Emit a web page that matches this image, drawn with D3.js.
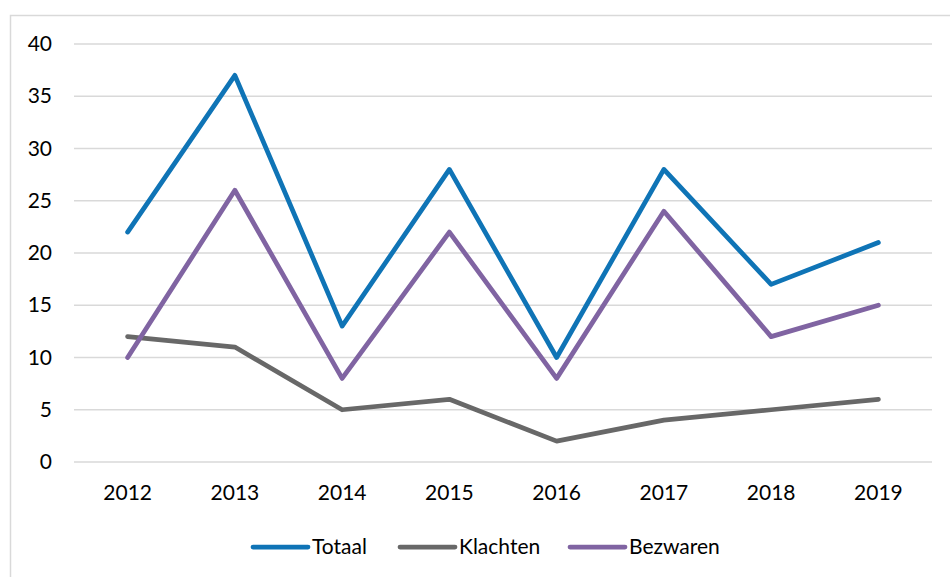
<!DOCTYPE html>
<html>
<head>
<meta charset="utf-8">
<script src="https://cdn.jsdelivr.net/npm/d3@7"></script>
<style>
  html, body { margin: 0; padding: 0; background: #fff; }
  svg { display: block; font-family: Lato, "Open Sans", sans-serif; }
</style>
</head>
<body>
<svg id="chart" width="950" height="577"></svg>
<script>
const categories = ["2012", "2013", "2014", "2015", "2016", "2017", "2018", "2019"];
const totaal = [22, 37, 13, 28, 10, 28, 17, 21];
const klachten = [12, 11, 5, 6, 2, 4, 5, 6];
const bezwaren = [10, 26, 8, 22, 8, 24, 12, 15];
const yTicks = [0, 5, 10, 15, 20, 25, 30, 35, 40];
const seriesNames = ["Totaal", "Klachten", "Bezwaren"];

(function () {
const colors = { Totaal: "#0F74B6", Klachten: "#686868", Bezwaren: "#8064A2" };
const series = [
  { name: seriesNames[0], values: totaal },
  { name: seriesNames[1], values: klachten },
  { name: seriesNames[2], values: bezwaren }
];
const fs = 21;

const svg = d3.select("#chart");

// outer border
svg.append("rect")
  .attr("x", 10.5).attr("y", 15.5)
  .attr("width", 960).attr("height", 620)
  .attr("fill", "none").attr("stroke", "#D9D9D9").attr("stroke-width", 1.5);

const mLeft = 74, mRight = 932, mTop = 44, mBottom = 462;

const x = d3.scaleBand().domain(categories).range([mLeft, mRight]);
const y = d3.scaleLinear().domain([0, 40]).range([mBottom, mTop]);

// gridlines
svg.append("g")
  .selectAll("line")
  .data(yTicks)
  .join("line")
  .attr("x1", mLeft).attr("x2", mRight)
  .attr("y1", d => y(d)).attr("y2", d => y(d))
  .attr("stroke", "#D9D9D9").attr("stroke-width", 1.5);

// y axis labels
const yAxis = d3.axisLeft(y).tickValues(yTicks).tickSize(0).tickPadding(0);
const gy = svg.append("g").attr("transform", `translate(52,0)`).call(yAxis);
gy.select(".domain").remove();
gy.selectAll("text").attr("font-size", fs).attr("fill", "#000")
  .attr("font-family", "Lato, 'Open Sans', sans-serif");

// x axis labels
const xAxis = d3.axisBottom(x).tickSize(0).tickPadding(0);
const gx = svg.append("g").attr("transform", `translate(0,${mBottom + 23})`).call(xAxis);
gx.select(".domain").remove();
gx.selectAll("text").attr("font-size", fs).attr("fill", "#000")
  .attr("font-family", "Lato, 'Open Sans', sans-serif");

// lines
const line = d3.line()
  .x((d, i) => x(categories[i]) + x.bandwidth() / 2)
  .y(d => y(d));

svg.append("g")
  .selectAll("path")
  .data(series)
  .join("path")
  .attr("d", d => line(d.values))
  .attr("fill", "none")
  .attr("stroke", d => colors[d.name])
  .attr("stroke-width", 4.75)
  .attr("stroke-linejoin", "round")
  .attr("stroke-linecap", "round");

// legend
const legendX = [253, 400, 570];
const legendY = 547;
const lg = svg.append("g").selectAll("g").data(series).join("g")
  .attr("transform", (d, i) => `translate(${legendX[i]},${legendY})`);
lg.append("line")
  .attr("x1", 0).attr("x2", 55).attr("y1", 0).attr("y2", 0)
  .attr("stroke", d => colors[d.name]).attr("stroke-width", 4.75)
  .attr("stroke-linecap", "round");
lg.append("text")
  .attr("x", 59).attr("y", 0).attr("dy", "0.35em")
  .attr("font-size", fs).attr("fill", "#000")
  .text(d => d.name);
})();
</script>
</body>
</html>
